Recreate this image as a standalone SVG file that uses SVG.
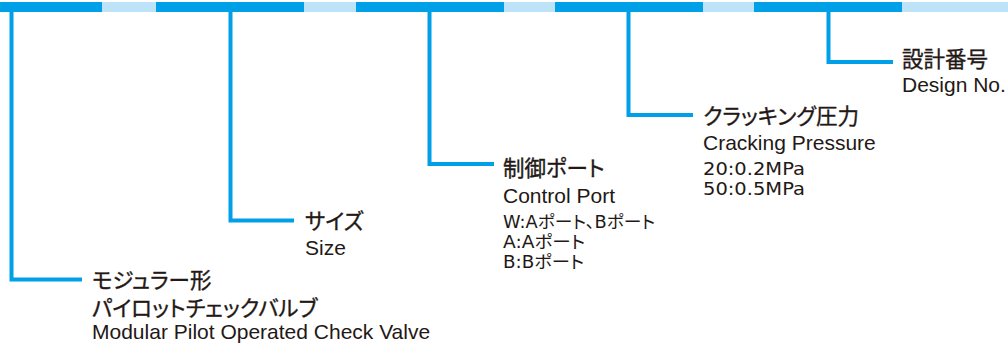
<svg xmlns="http://www.w3.org/2000/svg" width="1008" height="349" viewBox="0 0 1008 349">
<style>
.dk{fill:#00a0e9}
.lt{fill:#bde3f8}
.ln{fill:none;stroke:#00a0e9;stroke-width:4}
text{fill:#231815;font-family:"Liberation Sans","Noto Sans CJK JP",sans-serif}
.j{font-size:21.5px;font-family:"Noto Sans CJK JP","Liberation Sans",sans-serif;font-feature-settings:"palt";stroke:#231815;stroke-width:0.35px}
.e{font-size:21px}
.s{font-size:17.5px;font-family:"DejaVu Sans","Noto Sans CJK JP",sans-serif;font-feature-settings:"palt"}
</style>
<g id="bar">
<rect class="dk" x="0" y="2" width="102" height="10"/>
<rect class="lt" x="102" y="2" width="54" height="10"/>
<rect class="dk" x="156" y="2" width="148" height="10"/>
<rect class="lt" x="304" y="2" width="52" height="10"/>
<rect class="dk" x="356" y="2" width="148" height="10"/>
<rect class="lt" x="504" y="2" width="51" height="10"/>
<rect class="dk" x="555" y="2" width="148" height="10"/>
<rect class="lt" x="703" y="2" width="51" height="10"/>
<rect class="dk" x="754" y="2" width="148" height="10"/>
<rect class="lt" x="902" y="2" width="106" height="10"/>
</g>
<g id="connectors">
<path class="ln" d="M11.5 12V279.5H82"/>
<path class="ln" d="M230.5 12V220.5H294"/>
<path class="ln" d="M429.5 12V164H494"/>
<path class="ln" d="M628.5 12V115H693"/>
<path class="ln" d="M828.5 12V62H893"/>
</g>
<g id="node-model">
<text class="j" x="92" y="288">モジュラー形</text>
<text class="j" x="92" y="316">パイロットチェックバルブ</text>
<text class="e" x="92" y="339">Modular Pilot Operated Check Valve</text>
</g>
<g id="node-size">
<text class="j" x="305" y="229">サイズ</text>
<text class="e" x="305" y="255">Size</text>
</g>
<g id="node-port">
<text class="j" x="503" y="176">制御ポート</text>
<text class="e" x="503" y="203">Control Port</text>
<text class="s" x="503" y="228" textLength="152" lengthAdjust="spacingAndGlyphs">W:Aポート、Bポート</text>
<text class="s" x="503" y="248" textLength="82" lengthAdjust="spacingAndGlyphs">A:Aポート</text>
<text class="s" x="503" y="268" textLength="81" lengthAdjust="spacingAndGlyphs">B:Bポート</text>
</g>
<g id="node-pressure">
<text class="j" x="703" y="124">クラッキング圧力</text>
<text class="e" x="703" y="150">Cracking Pressure</text>
<text class="s" x="703" y="175" textLength="102" lengthAdjust="spacingAndGlyphs">20:0.2MPa</text>
<text class="s" x="703" y="195" textLength="102" lengthAdjust="spacingAndGlyphs">50:0.5MPa</text>
</g>
<g id="node-design">
<text class="j" x="902" y="67">設計番号</text>
<text class="e" x="902" y="92">Design No.</text>
</g>
</svg>
